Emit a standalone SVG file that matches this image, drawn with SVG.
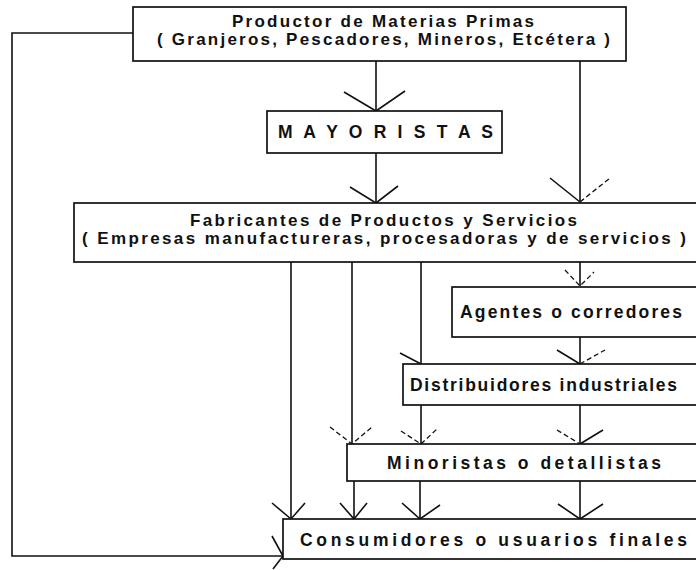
<svg xmlns="http://www.w3.org/2000/svg" width="696" height="570" viewBox="0 0 696 570">
<style>
.box{fill:#fff;stroke:#111;stroke-width:1.7}
.t{font-family:"Liberation Sans",Arial,sans-serif;font-weight:bold;font-size:17.5px;fill:#111}
.t2{font-size:17px}
.ln{fill:none;stroke:#111;stroke-width:1.6}
.fw{fill:none;stroke:#111;stroke-width:1.3;stroke-dasharray:5 3}
</style>
<rect width="696" height="570" fill="#fff"/>
<g id="connectors">
<polyline class="ln" points="133,33 12,33 12,556 283,556"/>
<polyline class="ln" points="272,536 283,556 273,569"/>
<line class="ln" x1="376" y1="61" x2="376" y2="111"/>
<polyline class="ln" points="344,92 376,111 405,91"/>
<line class="ln" x1="580" y1="61" x2="580" y2="202"/>
<line class="ln" x1="550" y1="178" x2="580" y2="202"/>
<line class="fw" x1="580" y1="202" x2="610" y2="178"/>
<line class="ln" x1="376" y1="153" x2="376" y2="203"/>
<polyline class="ln" points="350,187 376,203 398,186"/>
<line class="ln" x1="291" y1="262" x2="291" y2="519"/>
<polyline class="ln" points="272,503 291,519 305,503"/>
<line class="ln" x1="352" y1="262" x2="352" y2="444"/>
<polyline class="fw" points="330,427 352,444 372,427"/>
<line class="ln" x1="421" y1="262" x2="421" y2="364"/>
<line class="ln" x1="400" y1="353" x2="421" y2="364"/>
<line class="ln" x1="580" y1="262" x2="580" y2="286"/>
<polyline class="fw" points="565,270 580,286 594,272"/>
<line class="ln" x1="580" y1="337" x2="580" y2="364"/>
<line class="ln" x1="557" y1="350" x2="580" y2="364"/>
<line class="fw" x1="580" y1="364" x2="605" y2="350"/>
<line class="ln" x1="421" y1="405" x2="421" y2="444"/>
<line class="fw" x1="401" y1="431" x2="421" y2="444"/>
<line class="fw" x1="421" y1="444" x2="437" y2="429"/>
<line class="ln" x1="580" y1="405" x2="580" y2="444"/>
<line class="fw" x1="557" y1="430" x2="580" y2="444"/>
<line class="ln" x1="580" y1="444" x2="603" y2="430"/>
<line class="ln" x1="354" y1="481" x2="354" y2="519"/>
<polyline class="ln" points="340,503 354,519 367,503"/>
<line class="ln" x1="420" y1="481" x2="420" y2="519"/>
<polyline class="ln" points="402,503 420,519 440,505"/>
<line class="ln" x1="580" y1="481" x2="580" y2="519"/>
<polyline class="ln" points="558,504 580,519 603,504"/>
</g>
<g id="productor">
<rect class="box" x="133" y="7" width="493" height="54"/>
<text class="t t2" x="232" y="27" textLength="302" lengthAdjust="spacing">Productor de Materias Primas</text>
<text class="t t2" x="157" y="45" textLength="453" lengthAdjust="spacing">( Granjeros, Pescadores, Mineros, Etcétera )</text>
</g>
<g id="mayoristas">
<rect class="box" x="267" y="111" width="235" height="42"/>
<text class="t" x="278" y="138" textLength="215" lengthAdjust="spacing">M A Y O R I S T A S</text>
</g>
<g id="fabricantes">
<rect class="box" x="74" y="203" width="630" height="59"/>
<text class="t t2" x="190" y="226" textLength="387" lengthAdjust="spacing">Fabricantes de Productos y Servicios</text>
<text class="t t2" x="82" y="244" textLength="604" lengthAdjust="spacing">( Empresas manufactureras, procesadoras y de servicios )</text>
</g>
<g id="agentes">
<rect class="box" x="452" y="287" width="252" height="50"/>
<text class="t" x="460" y="318" textLength="222" lengthAdjust="spacing">Agentes o corredores</text>
</g>
<g id="distribuidores">
<rect class="box" x="403" y="364" width="301" height="41"/>
<text class="t" x="410" y="391" textLength="267" lengthAdjust="spacing">Distribuidores industriales</text>
</g>
<g id="minoristas">
<rect class="box" x="347" y="444" width="357" height="37"/>
<text class="t" x="387" y="469" textLength="274" lengthAdjust="spacing">Minoristas o detallistas</text>
</g>
<g id="consumidores">
<rect class="box" x="283" y="519" width="421" height="40"/>
<text class="t" x="300" y="546" textLength="387" lengthAdjust="spacing">Consumidores o usuarios finales</text>
</g>
</svg>
